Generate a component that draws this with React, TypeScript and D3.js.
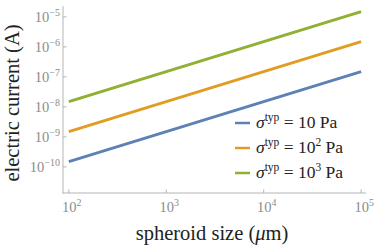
import { useEffect, useRef } from 'react';
import * as d3 from 'd3';

const sizes = [1e2, 1e3, 1e4, 1e5];
const current10 = [1.5e-10, 1.5e-9, 1.5e-8, 1.5e-7];
const current100 = [1.5e-9, 1.5e-8, 1.5e-7, 1.5e-6];
const current1000 = [1.5e-8, 1.5e-7, 1.5e-6, 1.5e-5];
const xTicks = [2, 3, 4, 5];
const yTicks = [-10, -9, -8, -7, -6, -5];
const legendExps = ['', '2', '3'];
const colors = ['#5e81b5', '#e19c24', '#8fb032'];

const W = 374;
const H = 248;

export default function App() {
  const svgRef = useRef<SVGSVGElement>(null);

  useEffect(() => {
    if (!svgRef.current) return;
    d3.select(svgRef.current).selectAll('*').remove();

    const svg = d3.select(svgRef.current)
      .attr('font-family', 'Liberation Serif');

    const x = d3.scaleLog().domain([Math.pow(10, 1.94), Math.pow(10, 5.05)]).range([63, 366]);
    const y = d3.scaleLog().domain([Math.pow(10, -10.87), Math.pow(10, -4.67)]).range([193, 7]);

    const axisColor = '#b5b5b5';
    const labelColor = '#8c8c8c';

    // axes lines
    svg.append('line')
      .attr('x1', 63).attr('x2', 63).attr('y1', 6).attr('y2', 193.5)
      .attr('stroke', axisColor).attr('stroke-width', 1);
    svg.append('line')
      .attr('x1', 62.5).attr('x2', 366).attr('y1', 193).attr('y2', 193)
      .attr('stroke', axisColor).attr('stroke-width', 1);

    // x ticks
    xTicks.forEach(e => {
      const px = x(Math.pow(10, e));
      svg.append('line')
        .attr('x1', px).attr('x2', px).attr('y1', 193).attr('y2', 189.5)
        .attr('stroke', axisColor);
      const t = svg.append('text')
        .attr('x', px + 3).attr('y', 212)
        .attr('text-anchor', 'middle')
        .attr('fill', labelColor)
        .attr('font-size', 14.5);
      t.append('tspan').text('10');
      t.append('tspan').attr('dy', -6).attr('font-size', 10).text(`${e}`);
    });

    // y ticks
    yTicks.forEach(e => {
      const py = y(Math.pow(10, e));
      svg.append('line')
        .attr('x1', 63).attr('x2', 66.5).attr('y1', py).attr('y2', py)
        .attr('stroke', axisColor);
      const t = svg.append('text')
        .attr('x', 60).attr('y', py + 5)
        .attr('text-anchor', 'end')
        .attr('fill', labelColor)
        .attr('font-size', 14.5);
      t.append('tspan').text('10');
      t.append('tspan').attr('dy', -6).attr('font-size', 10).text(`\u2212${-e}`);
    });

    // series
    const line = d3.line<[number, number]>()
      .x(d => x(d[0]))
      .y(d => y(d[1]));

    [current10, current100, current1000].forEach((vals, i) => {
      svg.append('path')
        .datum(sizes.map((s, j) => [s, vals[j]] as [number, number]))
        .attr('fill', 'none')
        .attr('stroke', colors[i])
        .attr('stroke-width', 3)
        .attr('d', line);
    });

    // axis labels
    svg.append('text')
      .attr('x', 212).attr('y', 240)
      .attr('text-anchor', 'middle')
      .attr('fill', '#222')
      .attr('font-size', 20.5)
      .html('spheroid size (<tspan font-style="italic">μ</tspan>m)');

    svg.append('text')
      .attr('transform', 'translate(19,103) rotate(-90)')
      .attr('text-anchor', 'middle')
      .attr('fill', '#222')
      .attr('font-size', 20.5)
      .text('electric current (A)');

    // legend
    legendExps.forEach((ex, i) => {
      const ly = 123 + i * 25;
      svg.append('line')
        .attr('x1', 235).attr('x2', 250).attr('y1', ly).attr('y2', ly)
        .attr('stroke', colors[i]).attr('stroke-width', 2.5);
      const t = svg.append('text')
        .attr('x', 256).attr('y', ly + 5)
        .attr('fill', '#222')
        .attr('font-size', 17.5);
      t.append('tspan').attr('font-style', 'italic').text('σ');
      t.append('tspan').attr('dy', -7).attr('font-size', 11.5).text('typ');
      t.append('tspan').attr('dy', 7).text(' = 10');
      if (ex) {
        t.append('tspan').attr('dy', -7).attr('font-size', 11.5).text(ex);
        t.append('tspan').attr('dy', 7).text(' Pa');
      } else {
        t.append('tspan').text(' Pa');
      }
    });
  }, []);

  return (
    <svg
      ref={svgRef}
      width={W}
      height={H}
      style={{ position: 'absolute', left: 0, top: 0, background: '#fff' }}
    />
  );
}
